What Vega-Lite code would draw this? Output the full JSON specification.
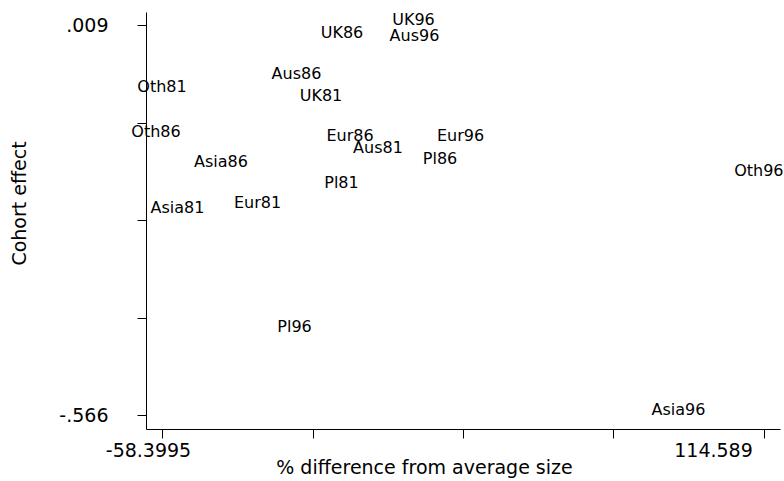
{
  "$schema": "https://vega.github.io/schema/vega-lite/v6.json",
  "width": 634,
  "height": 417,
  "autosize": "none",
  "padding": {"left": 146, "top": 12, "right": 4, "bottom": 52},
  "background": "white",
  "config": {"view": {"stroke": null}},
  "data": {
    "values": [
      {"label": "UK96", "size": 13.87, "effect": 0.009},
      {"label": "Aus96", "size": 14.16, "effect": -0.0146},
      {"label": "UK86", "size": -6.67, "effect": -0.0102},
      {"label": "Aus86", "size": -19.75, "effect": -0.0699},
      {"label": "UK81", "size": -12.71, "effect": -0.1031},
      {"label": "Oth81", "size": -58.3995, "effect": -0.0898},
      {"label": "Oth86", "size": -60.12, "effect": -0.1561},
      {"label": "Eur86", "size": -4.38, "effect": -0.162},
      {"label": "Aus81", "size": 3.67, "effect": -0.1797},
      {"label": "Eur96", "size": 27.38, "effect": -0.162},
      {"label": "Pl86", "size": 21.49, "effect": -0.1959},
      {"label": "Asia86", "size": -41.45, "effect": -0.2004},
      {"label": "Pl81", "size": -6.82, "effect": -0.2313},
      {"label": "Eur81", "size": -30.96, "effect": -0.2608},
      {"label": "Asia81", "size": -53.95, "effect": -0.2682},
      {"label": "Oth96", "size": 113.1, "effect": -0.2136},
      {"label": "Pl96", "size": -20.32, "effect": -0.4436},
      {"label": "Asia96", "size": 90.02, "effect": -0.566}
    ]
  },
  "mark": {"type": "text", "font": "DejaVu Sans", "fontSize": 16, "align": "center", "baseline": "alphabetic", "color": "black"},
  "encoding": {
    "x": {
      "field": "size",
      "type": "quantitative",
      "scale": {"domain": [-62.997, 119.187], "nice": false, "zero": false},
      "axis": {
        "title": "% difference from average size",
        "titleFont": "DejaVu Sans",
        "titleFontSize": 19,
        "titleFontWeight": "normal",
        "titleColor": "black",
        "titleX": 278,
        "titleY": 44,
        "titleBaseline": "alphabetic",
        "titleAlign": "center",
        "values": [-58.3995, -15.152, 28.0947, 71.342, 114.589],
        "labelExpr": "datum.value < -58 ? '-58.3995' : (datum.value > 114 ? '114.589' : '')",
        "labelFont": "DejaVu Sans",
        "labelFontSize": 19,
        "labelColor": "black",
        "labelOverlap": false,
        "labelFlush": false,
        "labelPadding": 3,
        "labelOffset": {"condition": {"test": "datum.value < 0", "value": -14}, "value": -51},
        "tickSize": 9,
        "tickColor": "black",
        "domainColor": "black",
        "grid": false
      }
    },
    "y": {
      "field": "effect",
      "type": "quantitative",
      "scale": {"domain": [-0.5866, 0.0282], "nice": false, "zero": false},
      "axis": {
        "title": "Cohort effect",
        "titleFont": "DejaVu Sans",
        "titleFontSize": 19,
        "titleFontWeight": "normal",
        "titleColor": "black",
        "titleX": -121,
        "titleY": 191,
        "titleAngle": 270,
        "titleBaseline": "alphabetic",
        "titleAlign": "center",
        "values": [0.009, -0.13475, -0.2785, -0.42225, -0.566],
        "labelExpr": "datum.value > 0 ? '.009' : (datum.value < -0.56 ? '-.566' : '')",
        "labelFont": "DejaVu Sans",
        "labelFontSize": 19,
        "labelColor": "black",
        "labelOverlap": false,
        "labelFlush": false,
        "labelPadding": 29,
        "labelBaseline": "middle",
        "tickSize": 9,
        "tickColor": "black",
        "domainColor": "black",
        "grid": false
      }
    },
    "text": {"field": "label", "type": "nominal"}
  }
}
